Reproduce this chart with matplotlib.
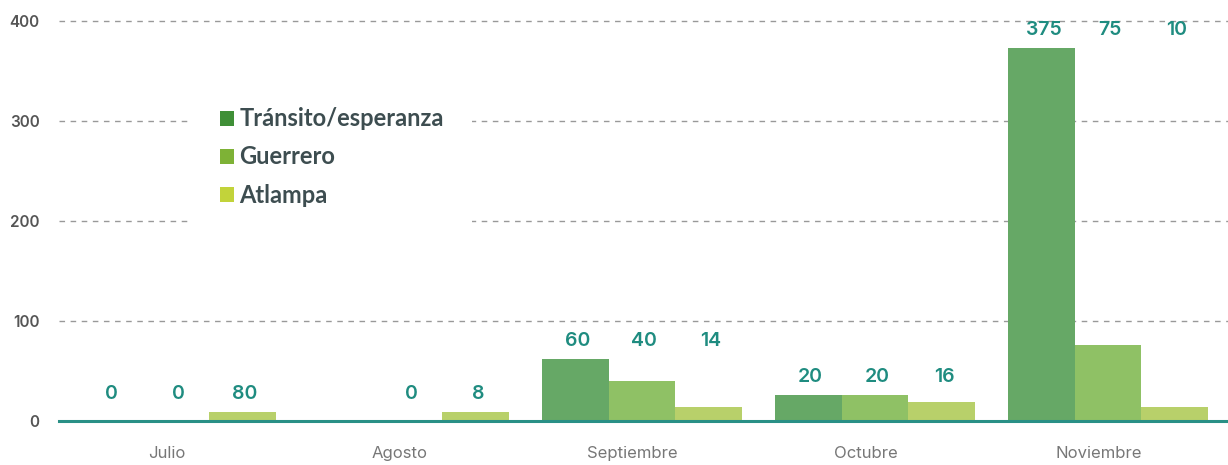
import numpy as np
import matplotlib
matplotlib.use("Agg")
import matplotlib.pyplot as plt
from matplotlib.patches import Patch

# datos
meses = ["Julio", "Agosto", "Septiembre", "Octubre", "Noviembre"]
series = ["Tránsito/esperanza", "Guerrero", "Atlampa"]
transito = [0, 0, 62, 26, 373]
guerrero = [0, 0, 40, 26, 76]
atlampa = [9, 9, 14, 19, 14]
# etiquetas tal como aparecen en el original
etiq_transito = ["0", None, "60", "20", "375"]
etiq_guerrero = ["0", "0", "40", "20", "75"]
etiq_atlampa = ["80", "8", "14", "16", "10"]

colores = ["#66a866", "#8fc165", "#b8d06a"]
colores_leyenda = ["#3f8f37", "#7eb236", "#c2d33a"]
verde_texto = "#1f8c80"

plt.rcParams["font.family"] = ["Inter", "DejaVu Sans"]

fig = plt.figure(figsize=(12.28, 4.65), dpi=100)
ax = fig.add_axes([59 / 1228, 44 / 465, 1169 / 1228, 420 / 465])

x = np.arange(len(meses))
w = 0.286
valores = [transito, guerrero, atlampa]
etiquetas = [etiq_transito, etiq_guerrero, etiq_atlampa]
for i, (vals, col) in enumerate(zip(valores, colores)):
    ax.bar(x + (i - 1) * w, vals, width=w, color=col, zorder=3)

# etiquetas por encima del grupo
for j in range(len(meses)):
    alto = max(v[j] for v in valores) + 18
    for i in range(3):
        t = etiquetas[i][j]
        if t is None:
            continue
        ax.text(x[j] + (i - 1) * w + 0.01, alto, t, ha="center", va="center",
                color=verde_texto, fontsize=14, fontweight="semibold", zorder=6)

ax.set_xlim(-0.502, 4.515)
ax.set_ylim(0, 420)
ax.set_yticks([0, 100, 200, 300, 400])
ax.set_xticks(x - 0.04)
ax.set_xticklabels(meses)
ax.yaxis.grid(True, linestyle=(0, (4, 4)), color="#999999", linewidth=1, zorder=0)
ax.tick_params(axis="y", length=0, pad=14, labelsize=11, labelcolor="#555555")
ax.tick_params(axis="x", length=0, pad=18, labelsize=12, labelcolor="#777777")
for t in ax.get_yticklabels():
    t.set_fontweight("semibold")
for s in ["top", "right", "left"]:
    ax.spines[s].set_visible(False)
ax.spines["bottom"].set_color("#2a9086")
ax.spines["bottom"].set_linewidth(2.2)
ax.spines["bottom"].set_zorder(4)

handles = [Patch(facecolor=c, edgecolor="none") for c in colores_leyenda]
leg = ax.legend(handles, series, loc="upper left", bbox_to_anchor=(133 / 1169, 342 / 420),
                frameon=True, facecolor="white", edgecolor="none", framealpha=1,
                fancybox=False, prop={"family": ["Lato", "DejaVu Sans"], "size": 17, "weight": "bold"},
                handlelength=0.6, handleheight=0.6,
                handletextpad=0.2, labelspacing=0.64, borderpad=1.2, borderaxespad=0)
for t in leg.get_texts():
    t.set_color("#3d4d50")
leg.set_zorder(5)

fig.savefig("out.png", dpi=100)
